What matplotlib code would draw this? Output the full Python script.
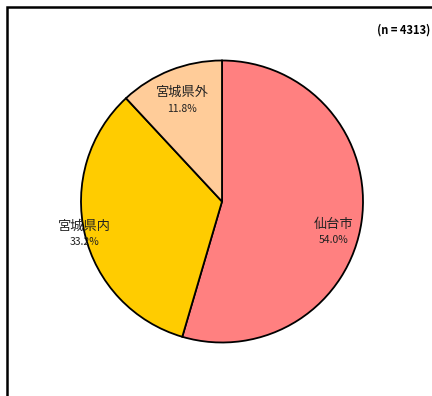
import numpy as np
import matplotlib.pyplot as plt
from matplotlib.patches import Rectangle

plt.rcParams['font.family'] = ['Noto Sans CJK JP', 'DejaVu Sans']

# Data
labels = ['仙台市', '宮城県内', '宮城県外']
shares = [54.0, 33.2, 11.8]
colors = ['#FF8080', '#FFCC00', '#FFCC99']
n_total = 4313

# label placement: radial distance and angular nudge (degrees)
label_dist = [0.82, 1.0, 0.77]
label_nudge = [-7, 0, 0]

fig = plt.figure(figsize=(4.32, 3.96), dpi=100)

# outer frame (open on the right and bottom, as in the original crop)
fig.patches.append(Rectangle((7 / 432, -0.1), 1.2, (396 - 7) / 396 + 0.1,
                             transform=fig.transFigure, fill=False,
                             edgecolor='black', linewidth=1.8))

cx, cy, r = 222, 201.5, 141
ax = fig.add_axes([(cx - r) / 432, (396 - cy - r) / 396, 2 * r / 432, 2 * r / 396])
wedges, _ = ax.pie(shares, colors=colors, startangle=90, counterclock=False,
                   wedgeprops=dict(edgecolor='black', linewidth=1.3))
ax.set_xlim(-1, 1)
ax.set_ylim(-1, 1)
ax.set_aspect('auto')
ax.axis('off')

for w, name, val, d, nd in zip(wedges, labels, shares, label_dist, label_nudge):
    ang = np.deg2rad((w.theta1 + w.theta2) / 2 + nd)
    x, y = d * np.cos(ang), d * np.sin(ang)
    ax.text(x, y + 0.055, name, ha='center', va='center', fontsize=9.5, color='#222222')
    ax.text(x, y - 0.06, f'{val:.1f}%', ha='center', va='center', fontsize=7.5, color='#222222')

fig.text(430 / 432, 1 - 30 / 396, f'(n = {n_total})', ha='right', va='center',
         fontsize=8, fontweight='bold')

fig.savefig('out.png', dpi=100)
